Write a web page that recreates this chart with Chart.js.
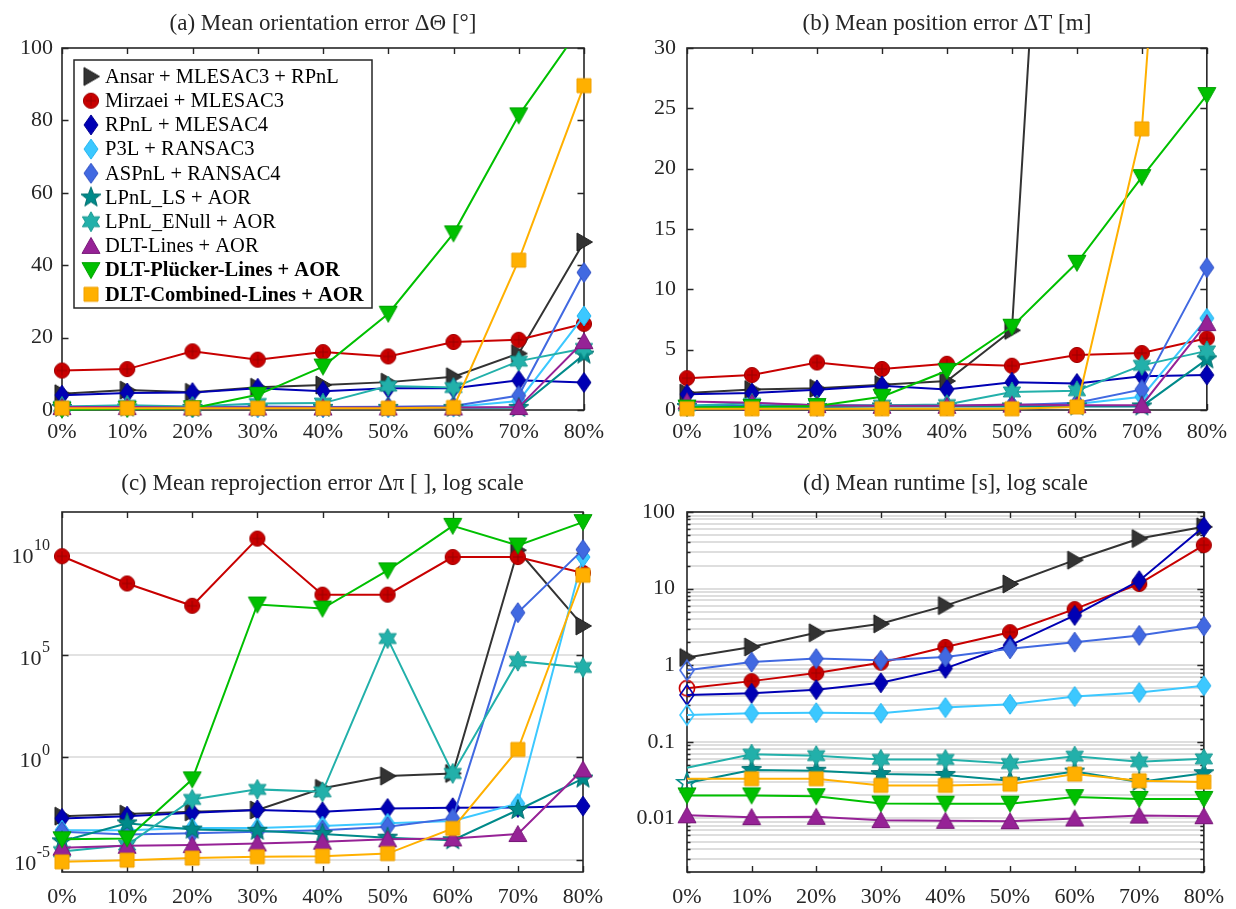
<!DOCTYPE html>
<html>
<head>
<meta charset="utf-8">
<title>Outlier robustness of line-based pose estimation</title>
<script src="https://cdn.jsdelivr.net/npm/chart.js@4.4.1/dist/chart.umd.min.js"></script>
<style>
  html, body { margin: 0; padding: 0; background: #ffffff; }
  #fig { position: relative; width: 1236px; height: 909px; overflow: hidden; }
  #fig canvas { position: absolute; }
</style>
</head>
<body>
<div id="fig">
  <canvas id="panelA" width="618" height="455" style="left:0px;top:0px"></canvas>
  <canvas id="panelB" width="618" height="455" style="left:618px;top:0px"></canvas>
  <canvas id="panelC" width="618" height="454" style="left:0px;top:455px"></canvas>
  <canvas id="panelD" width="618" height="454" style="left:618px;top:455px"></canvas>
</div>
<script>
// ---- categories ---------------------------------------------------------
const outlierLevels = ['0%', '10%', '20%', '30%', '40%', '50%', '60%', '70%', '80%'];

const methodNames = [
  'Ansar + MLESAC3 + RPnL',
  'Mirzaei + MLESAC3',
  'RPnL + MLESAC4',
  'P3L + RANSAC3',
  'ASPnL + RANSAC4',
  'LPnL_LS + AOR',
  'LPnL_ENull + AOR',
  'DLT-Lines + AOR',
  'DLT-Plücker-Lines + AOR',
  'DLT-Combined-Lines + AOR'
];
const boldMethods = ['DLT-Plücker-Lines + AOR', 'DLT-Combined-Lines + AOR'];

// ---- (a) mean orientation error [deg] -----------------------------------
const rotAnsar     = [4.5, 5.5, 4.9, 6.3, 6.9, 7.7, 9.2, 15.6, 46.4];
const rotMirzaei   = [10.9, 11.3, 16.2, 13.9, 16.0, 14.8, 18.8, 19.4, 23.8];
const rotRPnL      = [4.1, 4.7, 4.8, 6.0, 5.2, 6.0, 6.0, 8.2, 7.6];
const rotP3L       = [0.6, 0.8, 0.6, 0.6, 0.6, 0.6, 0.8, 2.5, 26.0];
const rotASPnL     = [0.8, 1.0, 0.8, 1.0, 0.8, 0.9, 1.1, 4.0, 38.0];
const rotLPnLLS    = [0.6, 0.7, 0.6, 0.6, 0.6, 0.6, 0.6, 0.6, 15.3];
const rotLPnLENull = [1.0, 1.3, 1.0, 1.8, 1.9, 6.6, 6.2, 13.5, 17.0];
const rotDLTLines  = [0.8, 0.8, 0.7, 0.7, 0.7, 0.7, 0.7, 0.8, 19.0];
const rotPlucker   = [0.1, 0.3, 0.5, 4.2, 12.0, 26.6, 48.8, 81.4, 107];
const rotCombined  = [0.5, 0.5, 0.5, 0.5, 0.5, 0.5, 0.7, 41.4, 89.6];
const rotTicks = [0, 20, 40, 60, 80, 100];

// ---- (b) mean position error [m] ----------------------------------------
const posAnsar     = [1.4, 1.7, 1.8, 2.1, 2.4, 6.6, 95, 150, 250];
const posMirzaei   = [2.64, 2.9, 3.94, 3.4, 3.83, 3.67, 4.56, 4.72, 5.94];
const posRPnL      = [1.3, 1.4, 1.67, 2.0, 1.7, 2.3, 2.2, 2.8, 2.9];
const posP3L       = [0.35, 0.4, 0.35, 0.35, 0.35, 0.4, 0.5, 1.1, 7.6];
const posASPnL     = [0.3, 0.35, 0.3, 0.35, 0.35, 0.4, 0.6, 1.7, 11.8];
const posLPnLLS    = [0.25, 0.3, 0.25, 0.3, 0.3, 0.3, 0.3, 0.3, 4.2];
const posLPnLENull = [0.35, 0.55, 0.4, 0.4, 0.45, 1.5, 1.6, 3.7, 4.9];
const posDLTLines  = [0.7, 0.6, 0.4, 0.35, 0.35, 0.45, 0.4, 0.4, 7.2];
const posPlucker   = [0.2, 0.25, 0.33, 1.1, 3.25, 6.9, 12.2, 19.3, 26.1];
const posCombined  = [0.1, 0.1, 0.1, 0.1, 0.1, 0.1, 0.25, 23.3, 97];
const posTicks = [0, 5, 10, 15, 20, 25, 30];

// ---- (c) mean reprojection error [-] (log scale) ------------------------
const repAnsar     = [1.35e-3, 1.7e-3, 2.2e-3, 2.7e-3, 0.031, 0.123, 0.166, 1.35e10, 2.7e6];
const repMirzaei   = [6.9e9, 3.2e8, 2.6e7, 5.0e10, 9.1e7, 9.1e7, 6.3e9, 6.3e9, 1.05e9];
const repRPnL      = [1.05e-3, 1.35e-3, 2.0e-3, 2.7e-3, 2.2e-3, 3.2e-3, 3.5e-3, 3.6e-3, 4.2e-3];
const repP3L       = [2.8e-4, 2.8e-4, 3.6e-4, 3.6e-4, 4.4e-4, 6.0e-4, 7.8e-4, 5.6e-3, 6.3e9];
const repASPnL     = [2.3e-4, 1.7e-4, 1.95e-4, 2.3e-4, 2.8e-4, 4.1e-4, 1.05e-3, 1.2e7, 1.45e10];
const repLPnLLS    = [8.0e-5, 6.0e-4, 3.0e-4, 2.6e-4, 1.8e-4, 1.2e-4, 9.0e-5, 2.7e-3, 0.093];
const repLPnLENull = [2.5e-5, 5.2e-5, 8.9e-3, 0.0275, 0.021, 6.5e5, 0.166, 5.1e4, 2.5e4];
const repDLTLines  = [3.9e-5, 4.8e-5, 5.2e-5, 6.3e-5, 7.6e-5, 1.0e-4, 1.1e-4, 1.8e-4, 0.26];
const repPlucker   = [1.0e-4, 1.1e-4, 0.085, 3.0e7, 1.9e7, 1.4e9, 2.1e11, 2.3e10, 3.2e11];
const repCombined  = [7.9e-6, 9.5e-6, 1.2e-5, 1.4e-5, 1.5e-5, 2.0e-5, 3.4e-4, 2.45, 8.1e8];
const repTickExponents = [-5, 0, 5, 10];

// ---- (d) mean runtime [s] (log scale) -----------------------------------
const runAnsar     = [1.26, 1.73, 2.65, 3.47, 6.0, 11.5, 23.5, 45, 64];
const runMirzaei   = [0.50, 0.62, 0.79, 1.08, 1.73, 2.7, 5.4, 11.5, 37];
const runRPnL      = [0.41, 0.43, 0.48, 0.59, 0.91, 1.82, 4.46, 12.7, 64];
const runP3L       = [0.224, 0.236, 0.24, 0.236, 0.28, 0.31, 0.39, 0.44, 0.54];
const runASPnL     = [0.86, 1.10, 1.22, 1.16, 1.28, 1.64, 2.0, 2.45, 3.24];
const runLPnLLS    = [0.029, 0.043, 0.042, 0.038, 0.037, 0.031, 0.041, 0.030, 0.039];
const runLPnLENull = [0.046, 0.069, 0.066, 0.059, 0.059, 0.052, 0.065, 0.055, 0.060];
const runDLTLines  = [0.011, 0.0104, 0.0105, 0.0095, 0.0093, 0.0092, 0.0100, 0.0109, 0.0107];
const runPlucker   = [0.020, 0.020, 0.0195, 0.0157, 0.0156, 0.0156, 0.019, 0.018, 0.018];
const runCombined  = [0.033, 0.033, 0.033, 0.027, 0.027, 0.028, 0.038, 0.031, 0.030];
const runTickValues = [0.01, 0.1, 1, 10, 100];
const runTickLabels = ['0.01', '0.1', '1', '10', '100'];
// at 0% outliers the RANSAC-type runs are drawn with open markers, two runs without markers
const runOpenAtZero   = [1, 2, 3, 4, 5];
const runHiddenAtZero = [6, 9];

// ---- appearance ---------------------------------------------------------
const FONT = "'Liberation Serif', 'Times New Roman', serif";
const INK = '#262626';
const TICK_SIZE = 22;

const seriesStyle = [
  { shape: 'right',   color: '#333333', edge: '#1e1e1e' },
  { shape: 'circle',  color: '#c80000', edge: '#a00000' },
  { shape: 'diamond', color: '#0000b4', edge: '#000090' },
  { shape: 'diamond', color: '#3cc8ff', edge: '#22b4f0' },
  { shape: 'diamond', color: '#4169e1', edge: '#3050c4' },
  { shape: 'star5',   color: '#008a8a', edge: '#006e6e' },
  { shape: 'star6',   color: '#22b0aa', edge: '#16968f' },
  { shape: 'up',      color: '#962296', edge: '#781878' },
  { shape: 'down',    color: '#00c000', edge: '#00a000' },
  { shape: 'square',  color: '#ffb000', edge: '#f0a000' }
];

function starPath(g, c, n, ro, ri) {
  for (let k = 0; k < 2 * n; k++) {
    const r = k % 2 === 0 ? ro : ri;
    const ang = -Math.PI / 2 + k * Math.PI / n;
    const px = c + r * Math.cos(ang), py = c + r * Math.sin(ang);
    if (k === 0) g.moveTo(px, py); else g.lineTo(px, py);
  }
  g.closePath();
}

// small canvases used as point styles
function makeMarker(shape, fill, edge, open) {
  const S = 26, m = S / 2;
  const c = document.createElement('canvas');
  c.width = S; c.height = S;
  const g = c.getContext('2d');
  g.beginPath();
  switch (shape) {
    case 'right':   g.moveTo(m - 7, m - 9); g.lineTo(m + 8.5, m); g.lineTo(m - 7, m + 9); g.closePath(); break;
    case 'up':      g.moveTo(m, m - 8.5); g.lineTo(m + 9, m + 7.5); g.lineTo(m - 9, m + 7.5); g.closePath(); break;
    case 'down':    g.moveTo(m, m + 8.5); g.lineTo(m + 9, m - 7.5); g.lineTo(m - 9, m - 7.5); g.closePath(); break;
    case 'circle':  g.arc(m, m, 7.6, 0, Math.PI * 2); break;
    case 'diamond': g.moveTo(m, m - 10); g.lineTo(m + 7, m); g.lineTo(m, m + 10); g.lineTo(m - 7, m); g.closePath(); break;
    case 'square':  g.rect(m - 7, m - 7, 14, 14); break;
    case 'star5':   starPath(g, m, 5, 10.5, 4.4); break;
    case 'star6':   starPath(g, m, 6, 10, 5.6); break;
  }
  if (open) {
    g.lineWidth = 1.6; g.strokeStyle = fill; g.stroke();
  } else {
    g.fillStyle = fill; g.fill();
    g.lineWidth = 1; g.strokeStyle = edge; g.stroke();
    if (shape === 'circle') {
      g.beginPath();
      g.moveTo(m - 5, m); g.lineTo(m + 5, m);
      g.moveTo(m, m - 5); g.lineTo(m, m + 5);
      g.lineWidth = 1; g.strokeStyle = '#9a0000'; g.stroke();
    }
  }
  return c;
}

const filledMarkers = seriesStyle.map(s => makeMarker(s.shape, s.color, s.edge, false));
const openMarkers   = seriesStyle.map(s => makeMarker(s.shape, s.color, s.edge, true));

function buildDatasets(series, openAtZero = [], hiddenAtZero = []) {
  return series.map((values, i) => {
    const st = seriesStyle[i];
    const styles = values.map((v, j) => (j === 0 && openAtZero.includes(i)) ? openMarkers[i] : filledMarkers[i]);
    const radii = values.map((v, j) => (j === 0 && hiddenAtZero.includes(i)) ? 0 : 8);
    return {
      label: methodNames[i],
      data: values,
      borderColor: st.color,
      backgroundColor: st.color,
      borderWidth: 2,
      tension: 0,
      fill: false,
      pointStyle: styles,
      pointRadius: radii,
      pointBorderWidth: 0,
      order: series.length - 1 - i
    };
  });
}

// axis box with inward tick marks on all four sides
const framePlugin = {
  id: 'frame',
  beforeDatasetsDraw(chart) {
    const { ctx, chartArea: a, scales } = chart;
    const x = scales.x, y = scales.y;
    ctx.save();
    ctx.strokeStyle = INK;
    ctx.lineWidth = 1.4;
    ctx.beginPath();
    for (let i = 0; i < outlierLevels.length; i++) {
      const px = Math.round(x.getPixelForValue(i)) + 0.5;
      ctx.moveTo(px, a.bottom); ctx.lineTo(px, a.bottom - 6);
      ctx.moveTo(px, a.top); ctx.lineTo(px, a.top + 6);
    }
    y.ticks.forEach(t => {
      const py = Math.round(y.getPixelForValue(t.value)) + 0.5;
      const len = t.major === false ? 3.5 : 6.5;
      ctx.moveTo(a.left, py); ctx.lineTo(a.left + len, py);
      ctx.moveTo(a.right, py); ctx.lineTo(a.right - len, py);
    });
    ctx.stroke();
    ctx.lineWidth = 1.6;
    ctx.strokeRect(a.left, a.top, a.right - a.left, a.bottom - a.top);
    ctx.restore();
  }
};

// boxed legend in the upper-left corner of panel (a)
const boxLegendPlugin = {
  id: 'boxLegend',
  afterDatasetsDraw(chart) {
    const { ctx, chartArea: a } = chart;
    const x0 = a.left + 12, y0 = a.top + 12, w = 298, h = 248, step = 24.2;
    ctx.save();
    ctx.fillStyle = '#ffffff';
    ctx.fillRect(x0, y0, w, h);
    ctx.strokeStyle = INK;
    ctx.lineWidth = 1.5;
    ctx.strokeRect(x0, y0, w, h);
    ctx.textBaseline = 'middle';
    ctx.textAlign = 'left';
    ctx.fillStyle = '#000000';
    methodNames.forEach((name, i) => {
      const cy = y0 + 16.5 + i * step;
      const mk = filledMarkers[i];
      ctx.drawImage(mk, x0 + 17 - mk.width / 2, cy - mk.height / 2);
      ctx.font = (boldMethods.includes(name) ? 'bold ' : '') + '20.5px ' + FONT;
      ctx.fillText(name, x0 + 31, cy + 1);
    });
    ctx.restore();
  }
};

// "10^k" tick labels with raised exponents for panel (c)
const powerLabelPlugin = {
  id: 'powerLabels',
  afterDraw(chart) {
    const { ctx, chartArea: a, scales: { y } } = chart;
    ctx.save();
    ctx.fillStyle = INK;
    ctx.textBaseline = 'middle';
    ctx.textAlign = 'right';
    repTickExponents.forEach(e => {
      const py = y.getPixelForValue(Math.pow(10, e));
      const xr = a.left - 12;
      const sup = String(e);
      ctx.font = '16px ' + FONT;
      const ws = ctx.measureText(sup).width;
      ctx.fillText(sup, xr, py - 7);
      ctx.font = TICK_SIZE + 'px ' + FONT;
      ctx.fillText('10', xr - ws - 0.5, py + 4);
    });
    ctx.restore();
  }
};

function makePanel(canvasId, titleText, series, yScale, geom, extraPlugins, openAtZero, hiddenAtZero) {
  return new Chart(document.getElementById(canvasId), {
    type: 'line',
    data: { labels: outlierLevels, datasets: buildDatasets(series, openAtZero, hiddenAtZero) },
    options: {
      responsive: false,
      animation: false,
      events: [],
      devicePixelRatio: 1,
      layout: { padding: { left: 0, right: geom.right, top: 0, bottom: 0 } },
      datasets: { line: { clip: geom.clip } },
      scales: {
        x: {
          type: 'category',
          offset: false,
          grid: { display: false, drawTicks: false },
          border: { display: false },
          ticks: {
            autoSkip: false, maxRotation: 0, minRotation: 0,
            padding: geom.xPad, color: INK,
            font: { family: FONT, size: TICK_SIZE }
          },
          afterFit: s => { s.height = geom.xHeight; }
        },
        y: Object.assign({
          border: { display: false },
          afterFit: s => { s.width = geom.yWidth; }
        }, yScale)
      },
      plugins: {
        legend: { display: false },
        tooltip: { enabled: false },
        title: {
          display: true,
          text: titleText,
          fullSize: false,
          color: INK,
          font: { family: FONT, size: 23, weight: 'normal', lineHeight: 1.2 },
          padding: { top: geom.titleTop, bottom: geom.titleBottom }
        }
      }
    },
    plugins: [framePlugin].concat(extraPlugins)
  });
}

function fixedTicks(values) {
  return s => { s.ticks = values.map(v => ({ value: v, major: true })); };
}

const topGeom = { xHeight: 45, xPad: 9, titleTop: 10, titleBottom: 10.4 };
const bottomGeom = { xHeight: 37, xPad: 12, titleTop: 15.2, titleBottom: 14.2 };

// (a)
makePanel('panelA', '(a) Mean orientation error \u0394\u0398 [\u00b0]',
  [rotAnsar, rotMirzaei, rotRPnL, rotP3L, rotASPnL, rotLPnLLS, rotLPnLENull, rotDLTLines, rotPlucker, rotCombined],
  {
    type: 'linear', min: rotTicks[0], max: rotTicks[rotTicks.length - 1],
    afterBuildTicks: fixedTicks(rotTicks),
    grid: { display: false, drawTicks: false },
    ticks: { padding: 9, color: INK, font: { family: FONT, size: TICK_SIZE } }
  },
  Object.assign({ right: 34, yWidth: 62, clip: { left: 14, right: 14, top: 0, bottom: 14 } }, topGeom),
  [boxLegendPlugin]);

// (b)
makePanel('panelB', '(b) Mean position error \u0394T [m]',
  [posAnsar, posMirzaei, posRPnL, posP3L, posASPnL, posLPnLLS, posLPnLENull, posDLTLines, posPlucker, posCombined],
  {
    type: 'linear', min: posTicks[0], max: posTicks[posTicks.length - 1],
    afterBuildTicks: fixedTicks(posTicks),
    grid: { display: false, drawTicks: false },
    ticks: { padding: 11, color: INK, font: { family: FONT, size: TICK_SIZE } }
  },
  Object.assign({ right: 27, yWidth: 69, clip: { left: 14, right: 14, top: 0, bottom: 14 } }, topGeom),
  []);

// (c)
makePanel('panelC', '(c) Mean reprojection error \u0394\u03c0 [ ], log scale',
  [repAnsar, repMirzaei, repRPnL, repP3L, repASPnL, repLPnLLS, repLPnLENull, repDLTLines, repPlucker, repCombined],
  {
    type: 'logarithmic', min: Math.pow(10, -5.6), max: 1e12,
    afterBuildTicks: fixedTicks(repTickExponents.map(e => Math.pow(10, e))),
    grid: { display: true, drawTicks: false, color: '#e2e2e2', lineWidth: 2 },
    ticks: { callback: () => '', padding: 0 }
  },
  Object.assign({ right: 35, yWidth: 62, clip: { left: 14, right: 14, top: 14, bottom: 14 } }, bottomGeom),
  [powerLabelPlugin]);

// (d)
const runGridValues = [];
for (let d = -3; d <= 2; d++) {
  for (let k = 1; k <= 9; k++) {
    const v = k * Math.pow(10, d);
    if (v >= 0.002 - 1e-12 && v <= 100 + 1e-9) runGridValues.push(v);
  }
}
makePanel('panelD', '(d) Mean runtime [s], log scale',
  [runAnsar, runMirzaei, runRPnL, runP3L, runASPnL, runLPnLLS, runLPnLENull, runDLTLines, runPlucker, runCombined],
  {
    type: 'logarithmic', min: 0.002, max: 100,
    afterBuildTicks: s => {
      s.ticks = runGridValues.map(v => ({
        value: v,
        major: runTickValues.some(t => Math.abs(t - v) / t < 1e-6)
      }));
    },
    grid: { display: true, drawTicks: false, color: '#dedede', lineWidth: 2 },
    ticks: {
      autoSkip: false,
      padding: 12, color: INK, font: { family: FONT, size: TICK_SIZE },
      callback: v => {
        const idx = runTickValues.findIndex(t => Math.abs(t - v) / t < 1e-6);
        return idx >= 0 ? runTickLabels[idx] : '';
      }
    }
  },
  Object.assign({ right: 27, yWidth: 69, clip: { left: 14, right: 14, top: 14, bottom: 14 } }, bottomGeom),
  [], runOpenAtZero, runHiddenAtZero);
</script>
</body>
</html>
